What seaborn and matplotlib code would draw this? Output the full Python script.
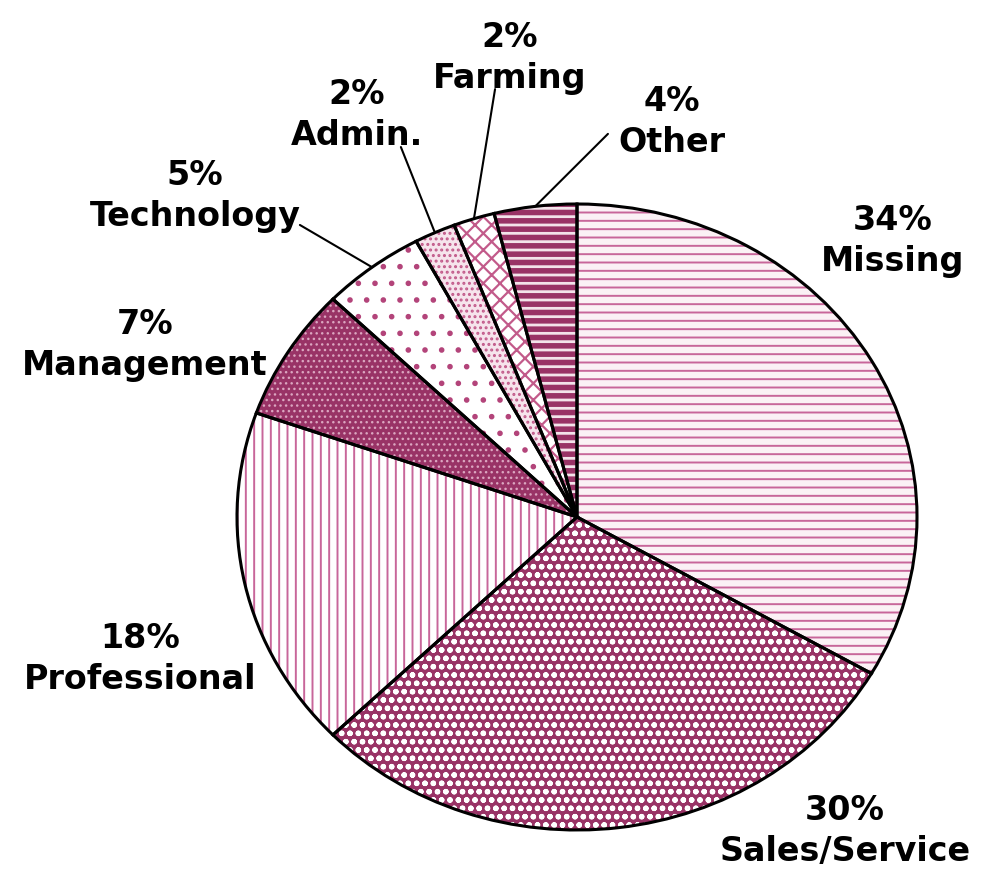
import matplotlib
matplotlib.use('Agg')
import numpy as np
import matplotlib.pyplot as plt
import seaborn as sns

# occupation shares, clockwise from 12 o'clock
sectors = ['Missing', 'Sales/Service', 'Professional', 'Management',
           'Technology', 'Admin.', 'Farming', 'Other']
shares = [34, 30, 18, 7, 5, 2, 2, 4]

# fill styles for each slice
face_colors = ['#fbf1f5', '#993366', 'white', '#993366',
               'white', '#f6e4ec', 'white', '#f3e3ea']
hatch_colors = ['#c8669a', 'white', '#c8669a', '#dba6c0',
                '#b3447a', '#c25a8a', '#c25a8a', '#993366']
hatches = ['--', 'oo', '||', '...', '.', '...', 'xx', '--']
hatch_widths = [1.4, 1.6, 1.4, 1.0, 1.6, 1.4, 1.6, 4.0]

# label centres in pie radius units
label_pos = [(0.929, 0.885), (0.788, -1.000), (-1.285, -0.450), (-1.271, 0.553),
             (-1.124, 1.029), (-0.647, 1.288), (-0.197, 1.470), (0.279, 1.265)]
# where leader lines end (None = no leader)
leader_end = [None, None, None, None,
              (-0.815, 0.933), (-0.518, 1.182), (-0.241, 1.367), (0.091, 1.224)]

sns.set_theme(style='white')
plt.rcParams['font.family'] = ['DejaVu Sans']
plt.rcParams['hatch.linewidth'] = 1.5

fig = plt.figure(figsize=(9.9, 8.78), dpi=100)
ax = fig.add_axes([0, 0, 1, 1])

wedges, _ = ax.pie(shares, startangle=90, counterclock=False,
                   colors=face_colors, wedgeprops=dict(linewidth=0))
for w, h, hc, hw in zip(wedges, hatches, hatch_colors, hatch_widths):
    w.set_hatch(h)
    w.set_edgecolor(hc)
    w.set_linewidth(0)
    if hasattr(w, 'set_hatch_linewidth'):
        w.set_hatch_linewidth(hw)

# black outlines on top
outline, _ = ax.pie(shares, startangle=90, counterclock=False,
                    wedgeprops=dict(fill=False, edgecolor='black', linewidth=2.2))

for w, name, share, pos, end in zip(wedges, sectors, shares, label_pos, leader_end):
    ax.text(pos[0], pos[1], f'{share}%\n{name}', ha='center', va='center',
            fontsize=24, fontweight='bold', color='black', linespacing=1.3)
    if end is not None:
        ang = np.deg2rad((w.theta1 + w.theta2) / 2)
        ax.plot([np.cos(ang), end[0]], [np.sin(ang), end[1]], color='black', lw=1.5)

ax.set_aspect('auto')
ax.set_xlim(-577 / 340, 413 / 340)
ax.set_ylim((518 - 878) / 313, 518 / 313)
ax.axis('off')

fig.savefig('out.png', dpi=100, facecolor='white')
